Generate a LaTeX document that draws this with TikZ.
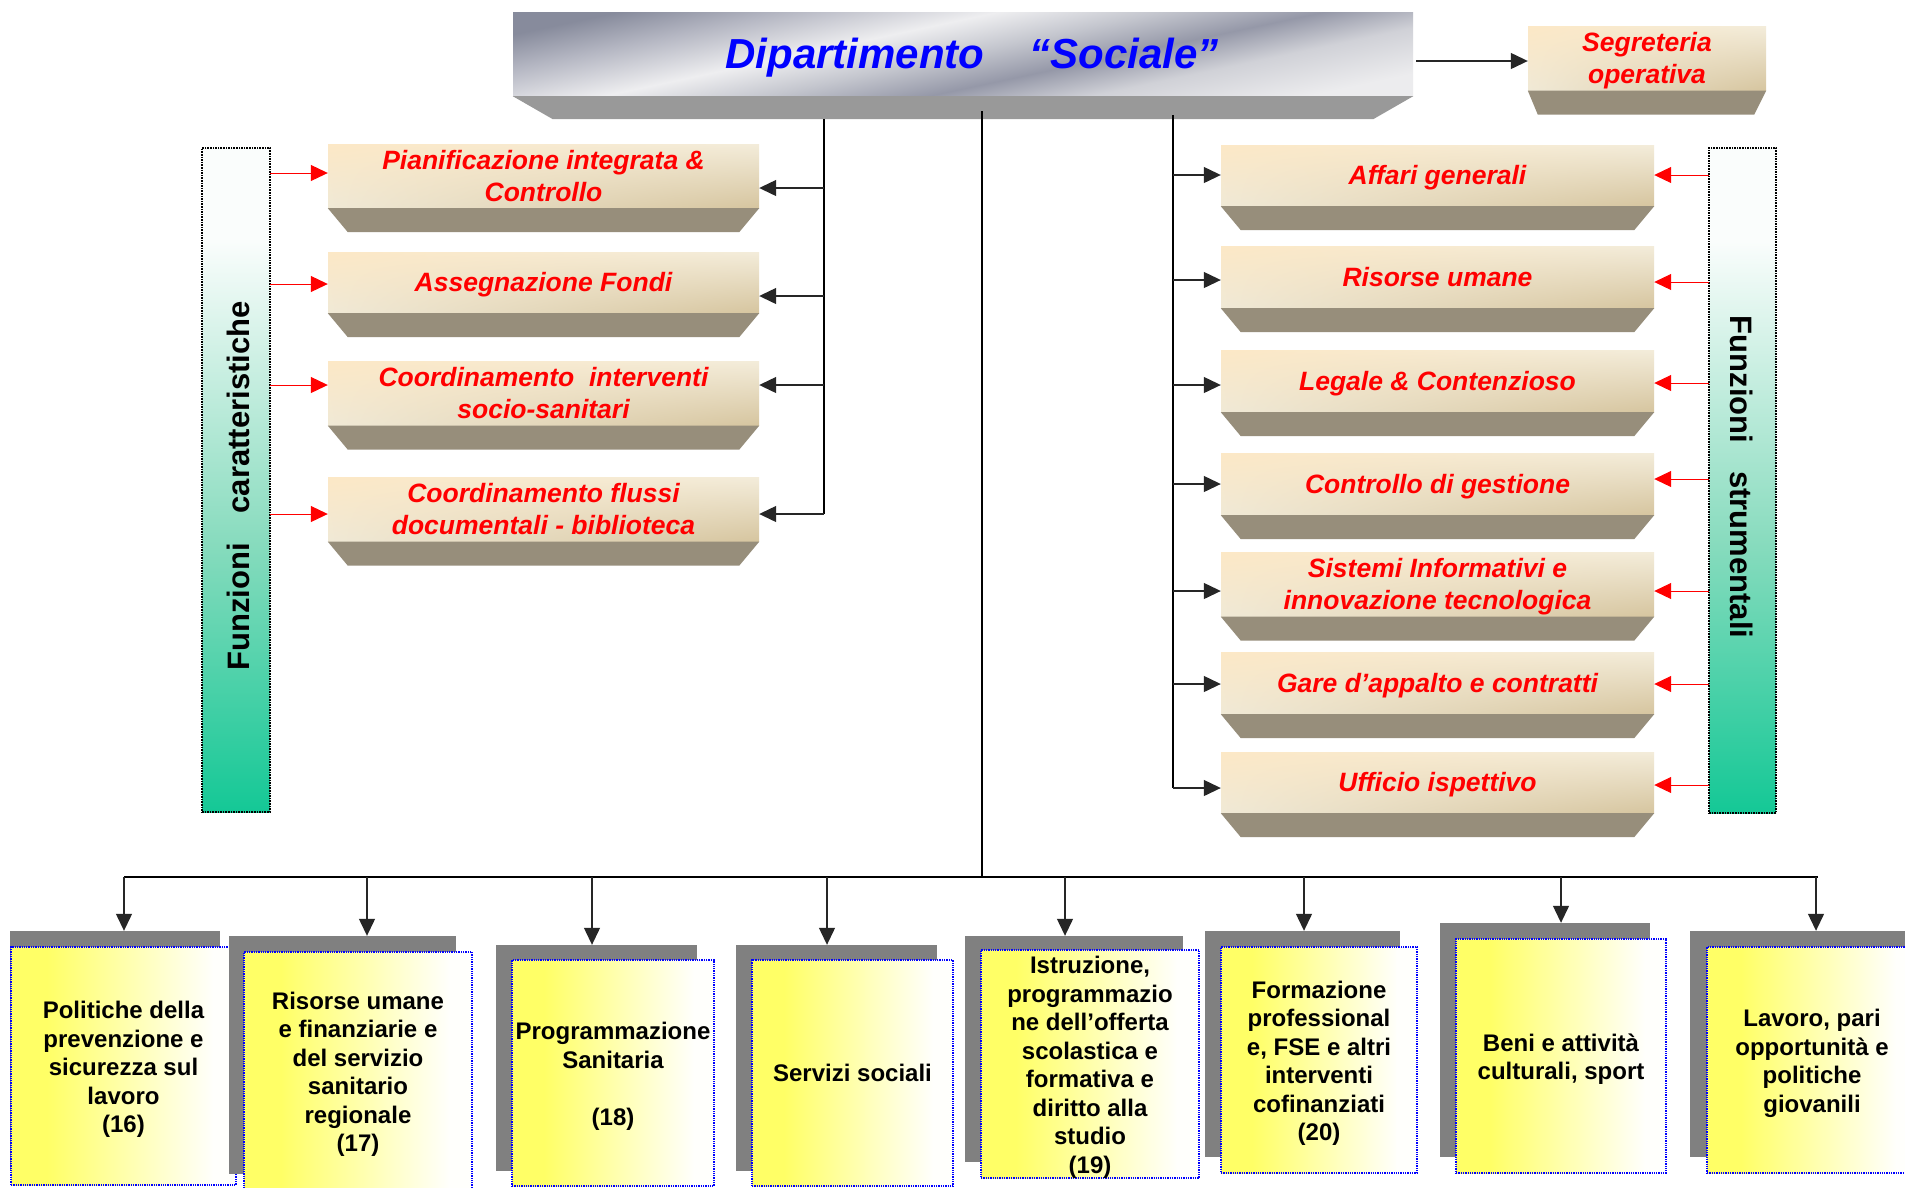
\documentclass[tikz,border=0pt]{standalone}
\usepackage{fontspec}
\setmainfont{Liberation Sans}
\usetikzlibrary{arrows.meta,shadings}
\definecolor{tanA}{HTML}{FCE8C6}
\definecolor{tanB}{HTML}{F3ECDA}
\definecolor{tanC}{HTML}{F0E9D6}
\definecolor{tanD}{HTML}{D6C59F}
\definecolor{tanbev}{HTML}{978E7B}
\definecolor{titbev}{HTML}{999999}
\definecolor{mtA}{HTML}{878B9C}
\definecolor{mtB}{HTML}{B4B6C2}
\definecolor{mtC}{HTML}{EEEEF0}
\definecolor{mtD}{HTML}{C4C6CE}
\definecolor{mtE}{HTML}{9598A8}
\definecolor{mtF}{HTML}{D0D1D7}
\definecolor{mtG}{HTML}{ECECEE}
\definecolor{yl}{HTML}{FFFF66}
\definecolor{wt}{HTML}{FFFFFC}
\definecolor{pg}{HTML}{14C896}
\definecolor{pm}{HTML}{86DBBD}
\definecolor{pw}{HTML}{FAFDFC}
\definecolor{shad}{HTML}{808080}
\pgfdeclareverticalshading{metal}{100bp}{color(0bp)=(mtG); color(25bp)=(mtG); color(35bp)=(mtF); color(42.5bp)=(mtE); color(50bp)=(mtD); color(57.5bp)=(mtC); color(67.5bp)=(mtB); color(75bp)=(mtA); color(100bp)=(mtA)}
\pgfdeclarehorizontalshading{ylw}{100bp}{color(0bp)=(yl); color(25bp)=(yl); color(33bp)=(yl); color(70bp)=(wt); color(100bp)=(wt)}
\pgfdeclareverticalshading{panelsh}{100bp}{color(0bp)=(pg); color(25bp)=(pg); color(45bp)=(pm); color(68bp)=(pw); color(100bp)=(pw)}
\newcommand\lowered[2]{\raisebox{-#1}[\height][\depth]{\begin{tabular}{@{}c@{}}#2\end{tabular}}}
\newcommand\tanbox[7]{%
  \node[tanface, minimum width=#4pt, minimum height=#5pt] (#1) at (#2,#3) {\lowered{3pt}{#7}};
  \fill[tanbev] (#1.south west) -- (#1.south east) -- ([xshift=-#6pt,yshift=-24pt]#1.south east) -- ([xshift=#6pt,yshift=-24pt]#1.south west) -- cycle;}
\begin{document}
\begin{tikzpicture}[x=1pt,y=-1pt,
  tanface/.style={inner sep=0pt, align=center, text=red, font=\fontsize{26.5}{32}\selectfont\bfseries\itshape,
    upper left=tanA, upper right=tanB, lower left=tanC, lower right=tanD},
  titleface/.style={inner sep=0pt, align=center, text=blue, font=\fontsize{42}{48}\selectfont\bfseries\itshape,
    shading=metal, shading angle=12},
  panel/.style={inner sep=0pt, draw=black, densely dotted, line width=1.6pt, shading=panelsh},
  paneltext/.style={inner sep=0pt, font=\fontsize{31}{36}\selectfont\bfseries},
  shadowbox/.style={inner sep=0pt, fill=shad},
  deptface/.style={inner sep=0pt, align=center, draw=blue, densely dotted, line width=1.3pt, shading=ylw,
    font=\fontsize{24}{28.5}\selectfont\bfseries},
  line/.style={draw=black, line width=1.4pt},
  arr/.style={draw=black!85, line width=1.2pt, -{Triangle[length=17pt,width=16pt]}},
  redarr/.style={draw=red, line width=1pt, -{Triangle[length=17pt,width=16pt]}, red}
]
\useasboundingbox (0,0) rectangle (1905,1187);
\clip (0,0) rectangle (1905,1187);
\fill[white] (0,0) rectangle (1905,1187);

% title
\node[titleface, minimum width=900pt, minimum height=84pt] (T) at (963,54) {\lowered{5pt}{\hspace*{18pt}Dipartimento\hspace{45pt}“Sociale”}};
\fill[titbev] (T.south west) -- (T.south east) -- ([xshift=-40pt,yshift=-23pt]T.south east) -- ([xshift=40pt,yshift=-23pt]T.south west) -- cycle;

% segreteria
\node[tanface, minimum width=238pt, minimum height=61pt] (Seg) at (1647,58.5) {\lowered{3pt}{Segreteria\\operativa}};
\fill[tanbev] (Seg.south west) -- (Seg.south east) -- ([xshift=-12pt,yshift=-24pt]Seg.south east) -- ([xshift=10pt,yshift=-24pt]Seg.south west) -- cycle;
\coordinate (sg) at (1416,61);
\draw[arr] (sg) -- (Seg.west |- sg);

% panels
\node[panel, minimum width=68pt, minimum height=664pt] (FC) at (236,480) {};
\node[paneltext, rotate=90] (FCt) at (238,486) {Funzioni\hspace{30pt}caratteristiche};
\node[panel, minimum width=67pt, minimum height=665pt] (FS) at (1742.5,480.5) {};
\node[paneltext, rotate=-90] (FSt) at (1742,477) {Funzioni\hspace{28pt}strumentali};

% left boxes
\tanbox{L1}{543.5}{176}{431}{62}{20}{Pianificazione integrata \&\\Controllo}
\tanbox{L2}{543.5}{282.5}{431}{61}{20}{Assegnazione Fondi}
\tanbox{L3}{543.5}{393.5}{431}{61}{20}{Coordinamento\ \ interventi\\socio-sanitari}
\tanbox{L4}{543.5}{509.5}{431}{61}{20}{Coordinamento flussi\\documentali - biblioteca}

% right boxes
\tanbox{R1}{1437.5}{175.5}{433}{61}{20}{Affari generali}
\tanbox{R2}{1437.5}{277}{433}{62}{20}{Risorse umane}
\tanbox{R3}{1437.5}{381}{433}{62}{20}{Legale \& Contenzioso}
\tanbox{R4}{1437.5}{484}{433}{62}{20}{Controllo di gestione}
\tanbox{R5}{1437.5}{584.5}{433}{61}{20}{Sistemi Informativi e\\innovazione tecnologica}
\tanbox{R6}{1437.5}{683}{433}{62}{20}{Gare d’appalto e contratti}
\tanbox{R7}{1437.5}{782.5}{433}{61}{20}{Ufficio ispettivo}

% left connector
\coordinate (lTop) at (824,119);
\coordinate (lj1) at (824,188);
\coordinate (lj2) at (824,296);
\coordinate (lj3) at (824,385);
\coordinate (lj4) at (824,514);
\draw[line] (lTop) -- (lj4);
\draw[arr] (lj1) -- (L1.east |- lj1);
\draw[arr] (lj2) -- (L2.east |- lj2);
\draw[arr] (lj3) -- (L3.east |- lj3);
\draw[arr] (lj4) -- (L4.east |- lj4);

% right connector
\coordinate (rTop) at (1173,115);
\coordinate (rj1) at (1173,175);
\coordinate (rj2) at (1173,280);
\coordinate (rj3) at (1173,385);
\coordinate (rj4) at (1173,484);
\coordinate (rj5) at (1173,591);
\coordinate (rj6) at (1173,684);
\coordinate (rj7) at (1173,788);
\draw[line] (rTop) -- (rj7);
\foreach \i in {1,...,7} {\draw[arr] (rj\i) -- (R\i.west |- rj\i);}

% red arrows left
\coordinate (fl1) at (270,173);
\coordinate (fl2) at (270,284);
\coordinate (fl3) at (270,385);
\coordinate (fl4) at (270,514);
\foreach \i in {1,...,4} {\draw[redarr] (fl\i) -- (L\i.west |- fl\i);}

% red arrows right
\coordinate (fr1) at (1709,175);
\coordinate (fr2) at (1709,282);
\coordinate (fr3) at (1709,383);
\coordinate (fr4) at (1709,479);
\coordinate (fr5) at (1709,591);
\coordinate (fr6) at (1709,684);
\coordinate (fr7) at (1709,785);
\foreach \i in {1,...,7} {\draw[redarr] (fr\i) -- (R\i.east |- fr\i);}

% central line and bus
\coordinate (cTop) at (982,111);
\coordinate (cBot) at (982,877);
\draw[line] (cTop) -- (cBot);
\coordinate (busL) at (124,877);
\coordinate (busR) at (1818,877);
\draw[line] (busL) -- (busR);

% bottom boxes
\node[shadowbox, minimum width=210pt, minimum height=239pt] (S1) at (115,1050.5) {};
\node[deptface, minimum width=225pt, minimum height=238pt] (F1) at (123.5,1066) {\lowered{4pt}{Politiche della\\prevenzione e\\sicurezza sul\\lavoro\\(16)}};
\node[shadowbox, minimum width=227pt, minimum height=238pt] (S2) at (342.5,1055) {};
\node[deptface, minimum width=228pt, minimum height=238pt] (F2) at (358,1071) {\lowered{4pt}{Risorse umane\\e finanziarie e\\del servizio\\sanitario\\regionale\\(17)}};
\node[shadowbox, minimum width=201pt, minimum height=226pt] (S3) at (596.5,1058) {};
\node[deptface, minimum width=202pt, minimum height=226pt] (F3) at (613,1073) {\lowered{4pt}{Programmazione\\Sanitaria\\\mbox{}\\(18)}};
\node[shadowbox, minimum width=201pt, minimum height=226pt] (S4) at (836.5,1058) {};
\node[deptface, minimum width=201pt, minimum height=226pt] (F4) at (852.5,1073) {\lowered{3pt}{Servizi sociali}};
\node[shadowbox, minimum width=218pt, minimum height=226pt] (S5) at (1074,1049) {};
\node[deptface, minimum width=218pt, minimum height=226pt] (F5) at (1090,1064) {\lowered{4pt}{Istruzione,\\programmazio\\ne dell’offerta\\scolastica e\\formativa e\\diritto alla\\studio\\(19)}};
\node[shadowbox, minimum width=195pt, minimum height=226pt] (S6) at (1302.5,1044) {};
\node[deptface, minimum width=196pt, minimum height=226pt] (F6) at (1319,1060) {\lowered{4pt}{Formazione\\professional\\e, FSE e altri\\interventi\\cofinanziati\\(20)}};
\node[shadowbox, minimum width=210pt, minimum height=234pt] (S7) at (1545,1040) {};
\node[deptface, minimum width=210pt, minimum height=234pt] (F7) at (1561,1056) {\lowered{4pt}{Beni e attività\\culturali, sport}};
\node[shadowbox, minimum width=215pt, minimum height=226pt] (S8) at (1797.5,1044) {};
\node[deptface, minimum width=210pt, minimum height=226pt] (F8) at (1812,1060) {\lowered{4pt}{Lavoro, pari\\opportunità e\\politiche\\giovanili}};

% bottom arrows
\coordinate (b1) at (124,877);
\coordinate (b2) at (367,877);
\coordinate (b3) at (592,877);
\coordinate (b4) at (827,877);
\coordinate (b5) at (1065,877);
\coordinate (b6) at (1304,877);
\coordinate (b7) at (1561,877);
\coordinate (b8) at (1816,877);
\foreach \i in {1,...,8} {\draw[arr] (b\i) -- (b\i |- S\i.north);}
\end{tikzpicture}
\end{document}
